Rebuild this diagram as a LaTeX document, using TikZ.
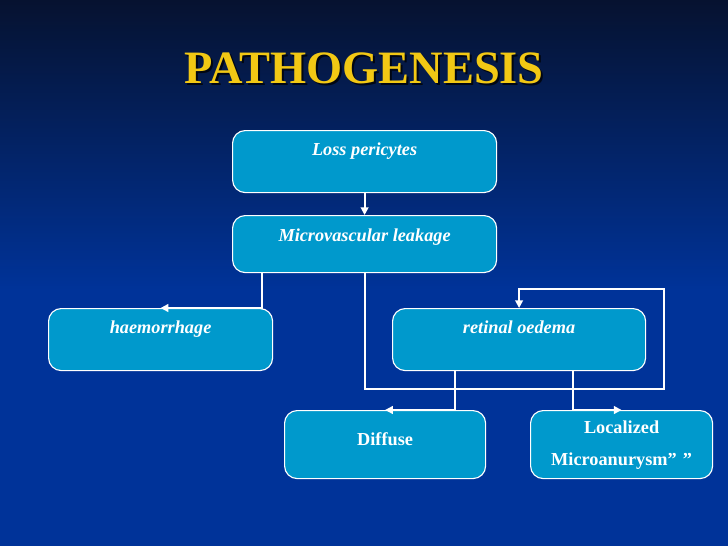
\documentclass[tikz,border=0pt]{standalone}
\usepackage{fontspec}
\setmainfont{Liberation Serif}
\usetikzlibrary{arrows.meta, positioning, calc}
\definecolor{SlideNavy}{HTML}{061230}
\definecolor{SlideBlue}{HTML}{003399}
\definecolor{BoxCyan}{HTML}{0099CC}
\definecolor{TitleGold}{HTML}{F2C814}

\begin{document}
\begin{tikzpicture}[
    x=0.025cm, y=-0.025cm, >=Stealth,
    box/.style={draw=white, fill=BoxCyan, line width=0.8pt, rounded corners=9pt,
      inner sep=0pt, anchor=north west, text=white, align=center},
    itbox/.style={box, font=\fontsize{13}{15.6}\selectfont\bfseries\itshape},
    rmbox/.style={box, font=\fontsize{13}{15.6}\selectfont\bfseries},
    conn/.style={white, line width=1.3pt, -{Triangle[length=5.5pt, width=5.5pt]}},
    titlefont/.style={font=\fontsize{33}{38}\selectfont\bfseries},
  ]
  \useasboundingbox (0,0) rectangle (728,546);
  % --- slide background ---
  \fill[SlideBlue] (0,0) rectangle (728,546);
  \shade[top color=SlideNavy, bottom color=SlideBlue] (0,0) rectangle (728,290);
  % --- title ---
  \node[titlefont, text=black, opacity=0.75] (titleshadow) at (366,70) {PATHOGENESIS};
  \node[titlefont, text=TitleGold] (title) at (364,68) {PATHOGENESIS};
  % --- boxes ---
  \node[itbox, minimum width=6.6cm, text height=0.625cm, text depth=0.925cm] (loss) at (232,130) {Loss pericytes};
  \node[itbox, minimum width=6.6cm, text height=0.65cm, text depth=0.775cm] (leak) at (232,215) {Microvascular leakage};
  \node[itbox, minimum width=5.6cm, text height=0.625cm, text depth=0.925cm] (haem) at (48,308) {haemorrhage};
  \node[itbox, minimum width=6.325cm, text height=0.625cm, text depth=0.925cm] (oedema) at (392,308) {retinal oedema};
  \node[rmbox, minimum width=5.025cm, text height=0.875cm, text depth=0.825cm] (diffuse) at (284,410) {Diffuse};
  \node[rmbox, text width=4.55cm, text height=0.575cm, text depth=1.125cm] (local) at (530,410) {Localized\\[7pt]Microanurysm” ”};
  % --- connectors ---
  \draw[conn] (loss) -- (leak);
  \draw[conn] ($(leak.south west)+(30,0)$) |- (haem.north);
  \coordinate (loopbr) at ($(oedema.south east)+(18,18)$);
  \coordinate (looptr) at ($(oedema.north east)+(18,-19)$);
  \draw[conn] (leak.south) |- (loopbr) -- (looptr) -| (oedema.north);
  \draw[conn] ($(oedema.south)+(-64,0)$) |- (diffuse.north);
  \draw[conn] ($(oedema.south)+(54,0)$) |- (local.north);
\end{tikzpicture}
\end{document}
